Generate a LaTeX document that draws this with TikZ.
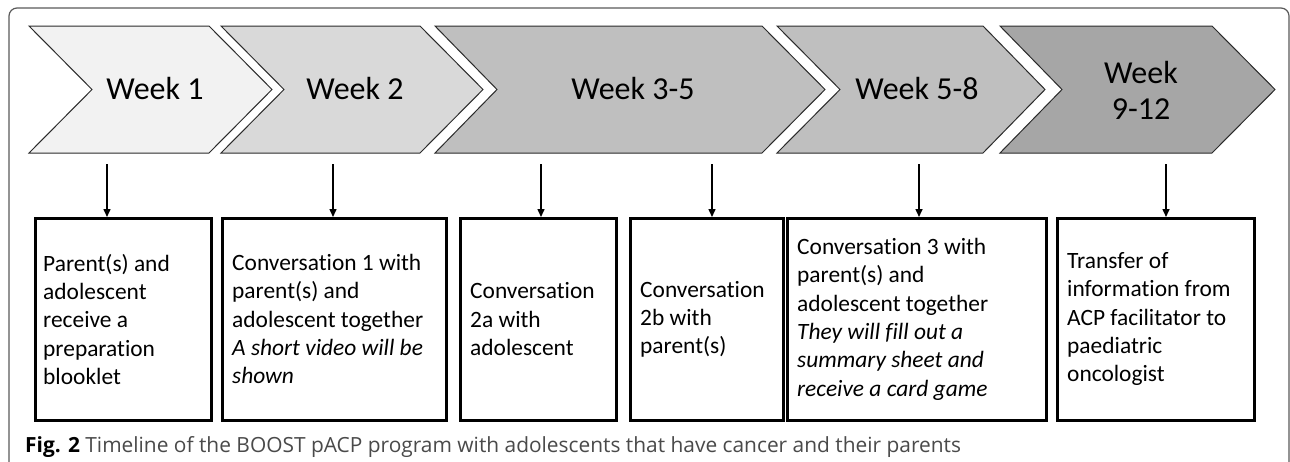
\documentclass[tikz,border=0pt]{standalone}
\usepackage{fontspec}
\setmainfont{Carlito}[Ligatures=NoCommon]
\newfontfamily\capfont{Open Sans}
\usetikzlibrary{arrows.meta}
\definecolor{cA}{HTML}{F2F2F2}
\definecolor{cB}{HTML}{D9D9D9}
\definecolor{cC}{HTML}{BFBFBF}
\definecolor{cD}{HTML}{A6A6A6}
\definecolor{chevline}{HTML}{2B2B2B}
\definecolor{framegray}{HTML}{5A5A5A}
\definecolor{capgray}{HTML}{4A4A4A}
\begin{document}
\begin{tikzpicture}[x=1pt,y=-1pt,
  chev/.style={draw=chevline, line width=1pt, line join=miter},
  week/.style={font=\fontsize{32}{37}\selectfont, inner sep=0pt, align=center},
  box/.style={draw=black, line width=2.5pt, minimum height=202pt, inner sep=0pt, anchor=north west},
  boxtext/.style={anchor=west, inner sep=0pt, xshift=11pt, align=left, font=\fontsize{23.4}{28.3}\selectfont},
  arr/.style={line width=1.5pt, -{Triangle[length=8pt,width=7pt]}},
  frame/.style={draw=framegray, line width=1.2pt, rounded corners=8pt}]
\useasboundingbox (0,0) rectangle (1290,461);
\fill[white] (0,0) rectangle (1290,461);
% frame
\draw[frame] (9,480) -- (9,8) -- (1289,8) -- (1289,480);
% chevrons
\draw[chev, fill=cA] (29,26) -- (209,26) -- (272,89.5) -- (209,153) -- (29,153) -- (92,89.5) -- cycle;
\draw[chev, fill=cB] (221,26) -- (420,26) -- (483,89.5) -- (420,153) -- (221,153) -- (284,89.5) -- cycle;
\draw[chev, fill=cC] (435,26) -- (762,26) -- (825,89.5) -- (762,153) -- (435,153) -- (497,89.5) -- cycle;
\draw[chev, fill=cC] (777,26) -- (983,26) -- (1045,89.5) -- (983,153) -- (777,153) -- (840,89.5) -- cycle;
\draw[chev, fill=cD] (1000,26) -- (1212,26) -- (1275,89.5) -- (1212,153) -- (1000,153) -- (1062,89.5) -- cycle;
% week labels
\node[week, anchor=base] (w1) at (155,99.5) {Week 1};
\node[week, anchor=base] (w2) at (355,99.5) {Week 2};
\node[week, anchor=base] (w3) at (633,99.5) {Week 3-5};
\node[week, anchor=base] (w4) at (917,99.5) {Week 5-8};
\node[week] (w5) at (1141,90) {Week\\[-1pt]9-12};
% boxes
\node[box, minimum width=176pt] (b1) at (34,217) {};
\node[box, minimum width=224pt] (b2) at (221,217) {};
\node[box, minimum width=156pt] (b3) at (459,217) {};
\node[box, minimum width=153pt] (b4) at (629,217) {};
\node[box, minimum width=259pt] (b5) at (786,217) {};
\node[box, minimum width=197pt] (b6) at (1056,217) {};
\node[boxtext, xshift=-2pt] (t1) at (b1.west)
  {Parent(s) and\\adolescent\\receive a\\preparation\\blooklet};
\node[boxtext] (t2) at (b2.west)
  {Conversation 1 with\\parent(s) and\\adolescent together\\\textit{A short video will be}\\\textit{shown}};
\node[boxtext] (t3) at (b3.west)
  {Conversation\\2a with\\adolescent};
\node[boxtext] (t4) at (b4.west)
  {Conversation\\2b with\\parent(s)};
\node[boxtext] (t5) at (b5.west)
  {Conversation 3 with\\parent(s) and\\adolescent together\\\textit{They will fill out a}\\\textit{summary sheet and}\\\textit{receive a card game}};
\node[boxtext] (t6) at (b6.west)
  {Transfer of\\information from\\ACP facilitator to\\paediatric\\oncologist};
% arrows
\coordinate (a1) at (107,164);
\coordinate (a2) at (333,164);
\coordinate (a3) at (541,164);
\coordinate (a4) at (712,164);
\coordinate (a5) at (919,164);
\coordinate (a6) at (1166,164);
\draw[arr] (a1) -- (a1 |- b1.north);
\draw[arr] (a2) -- (a2 |- b2.north);
\draw[arr] (a3) -- (a3 |- b3.north);
\draw[arr] (a4) -- (a4 |- b4.north);
\draw[arr] (a5) -- (a5 |- b5.north);
\draw[arr] (a6) -- (a6 |- b6.north);
% caption
\node[anchor=base west, inner sep=0pt, font=\capfont\fontsize{20.9}{25}\selectfont] (cap) at (25,452)
  {\textbf{Fig. 2} \textcolor{capgray}{Timeline of the BOOST pACP program with adolescents that have cancer and their parents}};
\end{tikzpicture}
\end{document}
